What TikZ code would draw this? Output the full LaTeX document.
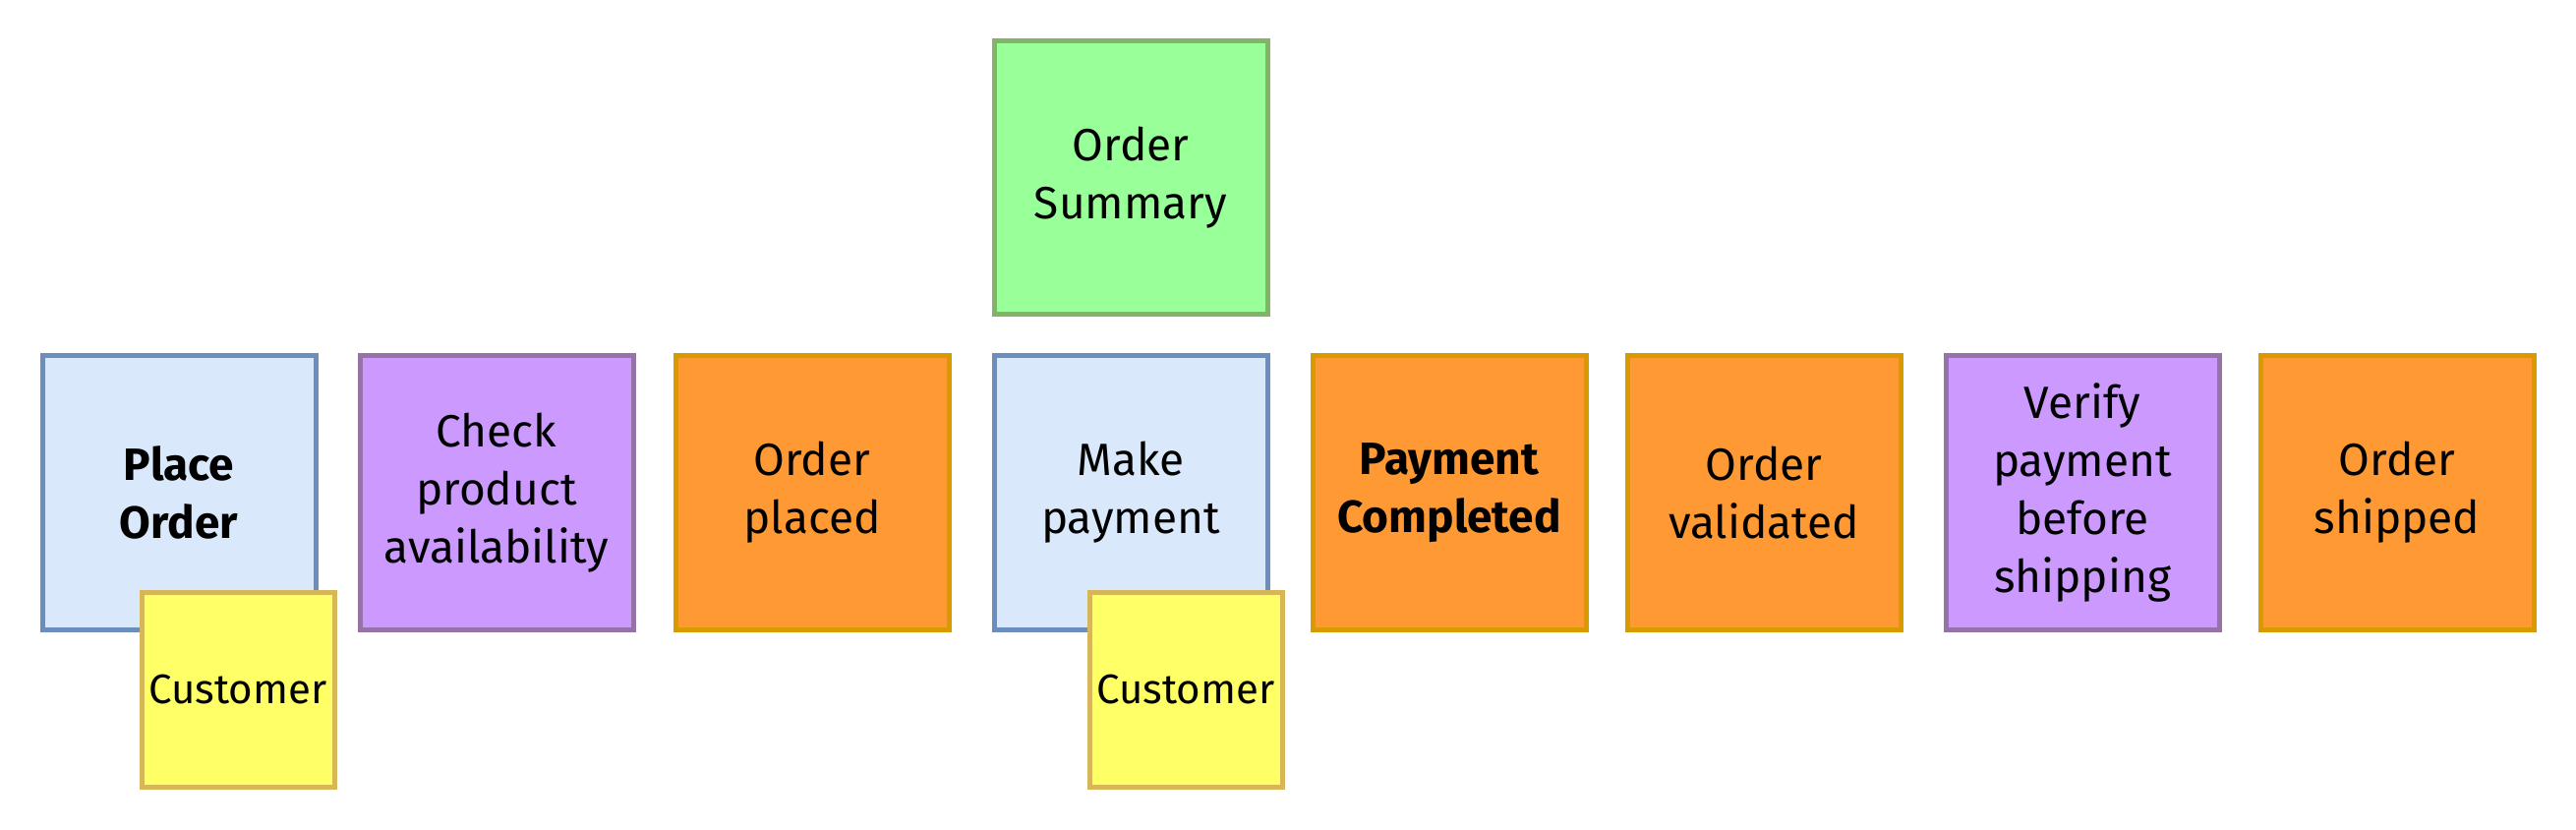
\documentclass[tikz,border=0pt]{standalone}
\usepackage{fontspec}
\setmainfont{Fira Sans}
\definecolor{bluefill}{HTML}{DAE8FC}
\definecolor{bluedraw}{HTML}{6C8EBF}
\definecolor{purpfill}{HTML}{CC99FF}
\definecolor{purpdraw}{HTML}{9673A6}
\definecolor{orfill}{HTML}{FF9933}
\definecolor{ordraw}{HTML}{D79B00}
\definecolor{grfill}{HTML}{99FF99}
\definecolor{grdraw}{HTML}{82B366}
\definecolor{yefill}{HTML}{FFFF66}
\definecolor{yedraw}{HTML}{D6B656}
\tikzset{
  sticky/.style={draw, line width=1.25pt, minimum width=69.5pt, minimum height=69.5pt,
    inner sep=2pt, align=center, text width=64pt, font=\fontsize{11.5}{14.75}\selectfont},
  cmdbox/.style={sticky, fill=bluefill, draw=bluedraw},
  policybox/.style={sticky, fill=purpfill, draw=purpdraw},
  eventbox/.style={sticky, fill=orfill, draw=ordraw},
  viewbox/.style={sticky, fill=grfill, draw=grdraw},
  actorbox/.style={draw=yedraw, fill=yefill, line width=1.25pt, minimum width=49pt,
    minimum height=49.5pt, inner sep=1pt, align=center, font=\fontsize{10.5}{14}\selectfont}
}
\begin{document}
\begin{tikzpicture}[x=0.25pt,y=-0.25pt]
\useasboundingbox (0,0) rectangle (2620,844);
\node[cmdbox] (place) at (182,501) {\bfseries Place\\\bfseries Order};
\node[policybox] (check) at (505,501) {Check\\product\\availability};
\node[eventbox] (placed) at (826,501) {Order\\placed};
\node[cmdbox] (make) at (1150,501) {Make\\payment};
\node[viewbox] (summary) at (1150,181) {Order\\Summary};
\node[eventbox] (paid) at (1474,501) {\bfseries Payment\\\bfseries Completed};
\node[eventbox] (valid) at (1794,501) {Order\\validated};
\node[policybox] (verify) at (2118,501) {Verify\\payment\\before\\shipping};
\node[eventbox] (shipped) at (2438,501) {Order\\shipped};
\node[actorbox] (cust1) at (242,701) {Customer};
\node[actorbox] (cust2) at (1206,701) {Customer};
\end{tikzpicture}
\end{document}
